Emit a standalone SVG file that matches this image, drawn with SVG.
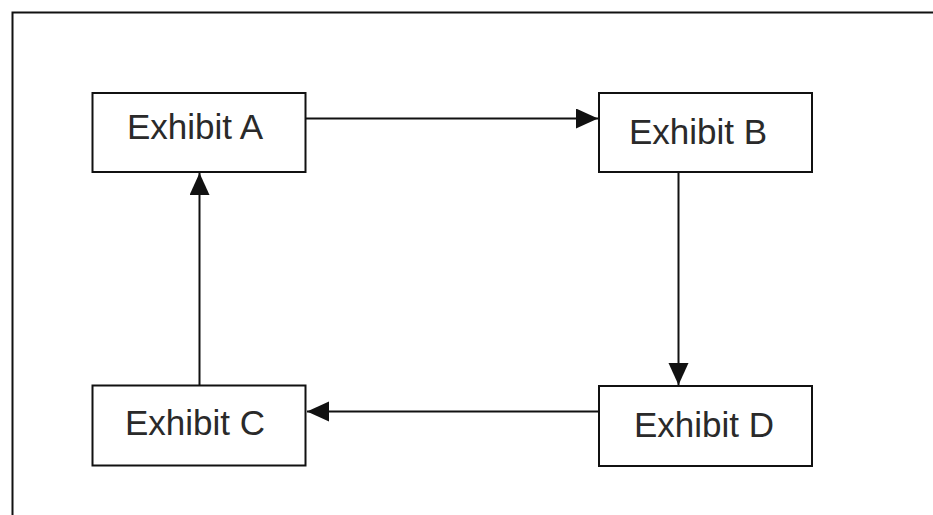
<svg xmlns="http://www.w3.org/2000/svg" width="933" height="515" viewBox="0 0 933 515">
  <style>
    .frame { fill: none; stroke: #111; stroke-width: 2; }
    .box { fill: #fff; stroke: #111; stroke-width: 2; }
    .label { font-family: "Liberation Sans", Arial, sans-serif; font-size: 35px; fill: #2a2a2a; text-anchor: middle; }
    .edge { fill: none; stroke: #111; stroke-width: 2; marker-end: url(#head); }
  </style>
  <defs>
    <marker id="head" markerUnits="userSpaceOnUse" markerWidth="24" markerHeight="22" refX="22" refY="10" orient="auto">
      <path d="M0,0 L22,10 L0,20 Z" fill="#111"/>
    </marker>
  </defs>
  <rect width="933" height="515" fill="#fff"/>
  <!-- outer frame: open to the right and bottom -->
  <path class="frame" d="M12.5,516 V12.5 H934"/>
  <g id="connectors">
    <line class="edge" x1="306" y1="118.5" x2="598" y2="118.5"/>
    <line class="edge" x1="678.5" y1="172" x2="678.5" y2="385"/>
    <line class="edge" x1="599" y1="411.5" x2="307" y2="411.5"/>
    <line class="edge" x1="199.5" y1="385" x2="199.5" y2="173"/>
  </g>
  <g id="exhibit-a">
    <rect class="box" x="92.5" y="93" width="213" height="79"/>
    <text class="label" x="195" y="139">Exhibit A</text>
  </g>
  <g id="exhibit-b">
    <rect class="box" x="599" y="93" width="213" height="79"/>
    <text class="label" x="698" y="144">Exhibit B</text>
  </g>
  <g id="exhibit-c">
    <rect class="box" x="92.5" y="385.5" width="213" height="80"/>
    <text class="label" x="195" y="435">Exhibit C</text>
  </g>
  <g id="exhibit-d">
    <rect class="box" x="599" y="386" width="213" height="80"/>
    <text class="label" x="704" y="437">Exhibit D</text>
  </g>
</svg>
